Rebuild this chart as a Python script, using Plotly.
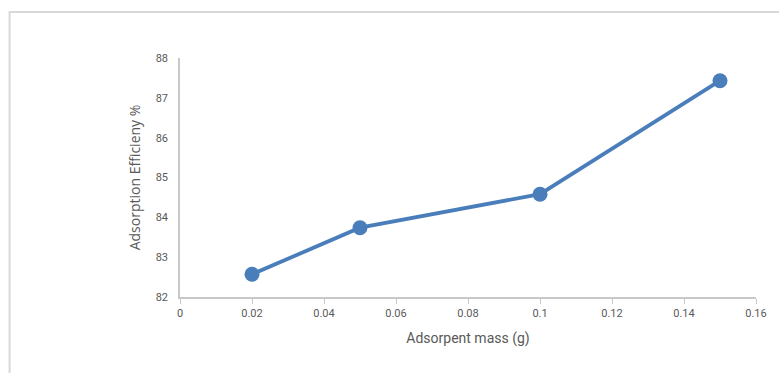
import plotly.graph_objects as go

mass = [0.02, 0.05, 0.10, 0.15]
efficiency = [82.57, 83.74, 84.58, 87.43]
x_ticks = [0, 0.02, 0.04, 0.06, 0.08, 0.1, 0.12, 0.14, 0.16]
x_tick_labels = ["0", "0.02", "0.04", "0.06", "0.08", "0.1", "0.12", "0.14", "0.16"]
y_ticks = [82, 83, 84, 85, 86, 87, 88]

blue = "#4a7ebb"
gray_text = "#595959"
axis_gray = "#c8c8c8"
tick_font = dict(family="Roboto, Arial", size=11, color=gray_text)

fig = go.Figure()
fig.add_trace(go.Scatter(
    x=mass, y=efficiency, mode="lines+markers",
    line=dict(color=blue, width=3.8),
    marker=dict(color=blue, size=15),
    showlegend=False, cliponaxis=False,
))

L, R, T, B = 180, 21, 58, 76
W, H = 779, 373
pw, ph = W - L - R, H - T - B

def px_x(p):
    return (p - L) / pw

def px_y(p):
    return (H - B - p) / ph

fig.update_layout(
    width=W, height=H,
    margin=dict(l=L, r=R, t=T, b=B),
    paper_bgcolor="white", plot_bgcolor="white",
    xaxis=dict(
        range=[0, 0.16], tickvals=x_ticks, ticktext=x_tick_labels,
        showgrid=False, zeroline=False,
        showline=True, linecolor=axis_gray, linewidth=1.5,
        ticks="outside", ticklen=5, tickcolor=axis_gray, tickwidth=1,
        tickfont=tick_font,
        title=dict(text="Adsorpent mass (g)", standoff=14,
                   font=dict(family="Roboto, Arial", size=14, color=gray_text)),
    ),
    yaxis=dict(
        range=[82, 88], tickvals=y_ticks,
        showgrid=False, zeroline=False,
        showline=True, linecolor=axis_gray, linewidth=1.5,
        ticks="", ticklabelstandoff=8,
        tickfont=tick_font,
        title=dict(text="Adsorption Efficieny %", standoff=12,
                   font=dict(family="Open Sans, DejaVu Sans", size=14, color=gray_text)),
    ),
    shapes=[dict(
        type="rect", xref="paper", yref="paper",
        x0=px_x(9), x1=px_x(820), y0=px_y(420), y1=px_y(12),
        line=dict(color="#d9d9d9", width=2), fillcolor="rgba(0,0,0,0)", layer="below",
    )],
)

fig.write_html("out.html")
